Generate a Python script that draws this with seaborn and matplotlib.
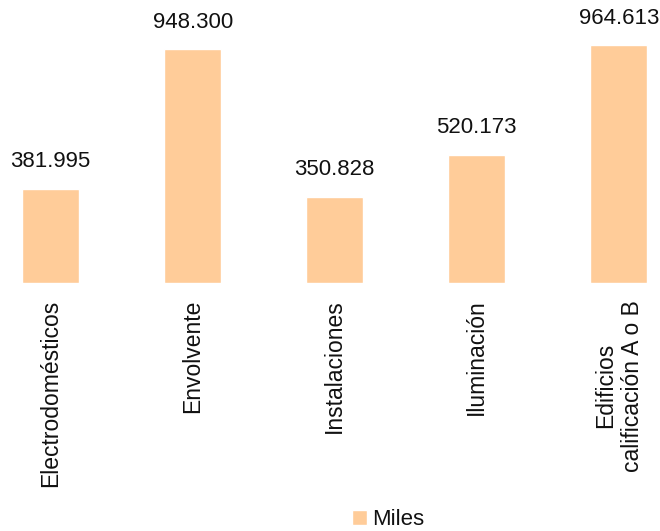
import pandas as pd
import seaborn as sns
import matplotlib.pyplot as plt

# data (thousands)
categories = ['Electrodomésticos', 'Envolvente', 'Instalaciones', 'Iluminación',
              'Edificios\ncalificación A o B']
values = [381.995, 948.300, 350.828, 520.173, 964.613]
series_name = 'Miles'

df = pd.DataFrame({'categoria': categories, 'valor': values})

sns.set_theme(style='white')
plt.rcParams['font.family'] = ['Liberation Sans', 'DejaVu Sans']

fig = plt.figure(figsize=(6.6, 5.31), dpi=100)
ax = fig.add_axes([0, 0.467, 1, 0.533])

sns.barplot(data=df, x='categoria', y='valor', color='#FFCC99', width=0.4,
            saturation=1, label=series_name, ax=ax)

# value labels above bars
ax.bar_label(ax.containers[0], labels=[f'{v:.3f}' for v in values],
             padding=12, fontsize=16, color='#111111')

ax.set_xlim(-0.356, 4.29)
ax.set_ylim(0, 1148)
ax.set_xlabel('')
ax.set_ylabel('')
ax.set_yticks([])
ax.tick_params(axis='x', length=0, pad=12, labelsize=16.5, labelcolor='#111111')
plt.setp(ax.get_xticklabels(), rotation=90, va='top', ha='center', multialignment='center')
for s in ax.spines.values():
    s.set_visible(False)

if ax.get_legend() is not None:
    ax.get_legend().remove()
handles, labels = ax.get_legend_handles_labels()
fig.legend(handles, labels, loc='lower center', bbox_to_anchor=(388 / 660, -0.024),
           frameon=False, fontsize=16, handlelength=0.7, handleheight=0.7,
           handletextpad=0.2, borderpad=0.1, labelcolor='#111111')

fig.savefig('out.png', dpi=100)
